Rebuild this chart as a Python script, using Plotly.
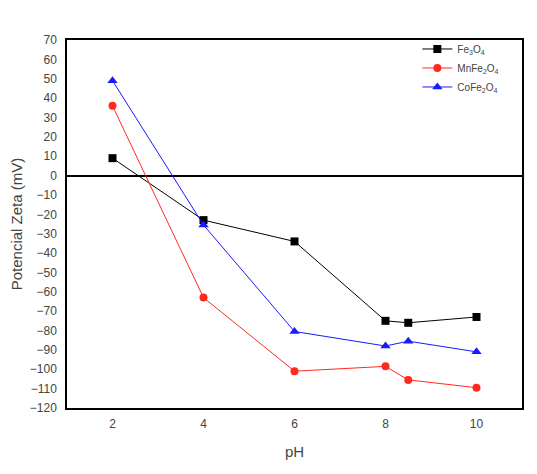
import plotly.graph_objects as go

ph = [2, 4, 6, 8, 8.5, 10]

fe3o4 = [9, -23, -34, -75, -76, -73]
mnfe2o4 = [36, -63, -101, -98.5, -105.5, -109.5]
cofe2o4 = [49, -25.5, -80.5, -88, -85.5, -91]

series_names = ["Fe<sub>3</sub>O<sub>4</sub>",
                "MnFe<sub>2</sub>O<sub>4</sub>",
                "CoFe<sub>2</sub>O<sub>4</sub>"]

y_ticks = list(range(-120, 71, 10))

fig = go.Figure()

fig.add_trace(go.Scatter(
    x=ph, y=fe3o4, mode="lines+markers", name=series_names[0],
    line=dict(color="black", width=1),
    marker=dict(symbol="square", size=8, color="black")
))
fig.add_trace(go.Scatter(
    x=ph, y=mnfe2o4, mode="lines+markers", name=series_names[1],
    line=dict(color="#ff2a1f", width=1),
    marker=dict(symbol="circle", size=8, color="#ff2a1f")
))
fig.add_trace(go.Scatter(
    x=ph, y=cofe2o4, mode="lines+markers", name=series_names[2],
    line=dict(color="#1a1aff", width=1),
    marker=dict(symbol="triangle-up", size=9, color="#1a1aff")
))

font_name = "Liberation Sans, Arial, sans-serif"
axis_font = dict(family=font_name, size=12, color="#444")
title_font = dict(family=font_name, size=15, color="#444")

fig.update_xaxes(
    range=[1, 11],
    tickvals=[2, 4, 6, 8, 10],
    showgrid=False, zeroline=False,
    showline=True, linecolor="black", linewidth=1.5, mirror=True,
    tickfont=axis_font, automargin=False, ticklabelstandoff=4,
    title=dict(text="pH", font=title_font, standoff=16),
)
fig.update_yaxes(
    range=[-120, 70],
    tickvals=y_ticks,
    showgrid=False,
    zeroline=True, zerolinecolor="black", zerolinewidth=1.5,
    showline=True, linecolor="black", linewidth=1.5, mirror=True,
    tickfont=axis_font, automargin=False, ticklabelstandoff=6,
    title=dict(text="Potencial Zeta (mV)", font=title_font, standoff=9),
)

fig.update_layout(
    width=529, height=466,
    margin=dict(l=59, r=15, t=32, b=66),
    paper_bgcolor="white", plot_bgcolor="white",
    legend=dict(
        x=0.77, y=1.015, xanchor="left", yanchor="top",
        font=dict(family=font_name, size=10, color="#444"),
        bgcolor="rgba(0,0,0,0)", tracegroupgap=0, itemwidth=30,
    ),
)

fig.write_html("out.html")
